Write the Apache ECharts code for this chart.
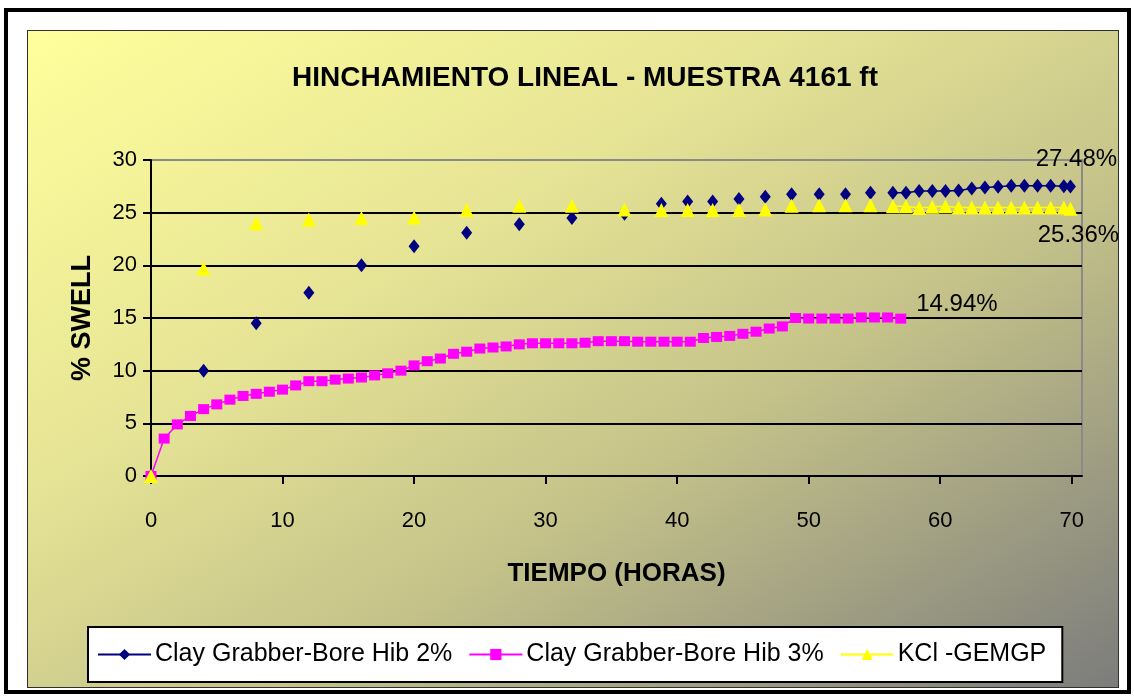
<!DOCTYPE html>
<html>
<head>
<meta charset="utf-8">
<script src="https://cdn.jsdelivr.net/npm/echarts@6/dist/echarts.min.js"></script>
<style>
  html, body { margin: 0; padding: 0; background: #ffffff; }
  #wrap { position: relative; width: 1134px; height: 697px; background: #ffffff; overflow: hidden; }
  #frame { position: absolute; left: 4px; top: 8px; width: 1119px; height: 678px; border: 4px solid #000; }
  #area { position: absolute; left: 27px; top: 30px; width: 1090px; height: 656px; border: 1px solid #303030;
          background: linear-gradient(to bottom right, #FFFF9C 0%, #E6E495 35%, #C4C289 62%, #7C7C7C 100%); }
  #chart { position: absolute; left: 0; top: 0; width: 1134px; height: 697px; }
</style>
</head>
<body>
<div id="wrap">
  <div id="frame"></div>
  <div id="area"></div>
  <div id="chart"></div>
</div>
<script>
// ---- data ----
const titleText = 'HINCHAMIENTO LINEAL - MUESTRA 4161 ft';
const xAxisTitle = 'TIEMPO (HORAS)';
const yAxisTitle = '% SWELL';
const seriesNames = ['Clay Grabber-Bore Hib 2%', 'Clay Grabber-Bore Hib 3%', 'KCl -GEMGP'];
const xTickValues = [0, 10, 20, 30, 40, 50, 60, 70];

// hours shared by "Hib 2%" and "KCl" series
const hoursA = [0, 4, 8, 12, 16, 20, 24, 28, 32, 36, 38.8, 40.8, 42.7, 44.7, 46.7, 48.7, 50.8, 52.8, 54.7,
  56.4, 57.4, 58.4, 59.4, 60.4, 61.4, 62.4, 63.4, 64.4, 65.4, 66.4, 67.4, 68.4, 69.4, 69.9];
const swellHib2 = [0, 10.0, 14.5, 17.4, 20.0, 21.8, 23.1, 23.9, 24.5, 24.9, 25.85, 26.05, 26.05, 26.3, 26.5,
  26.75, 26.75, 26.75, 26.9, 26.9, 26.9, 27.05, 27.05, 27.05, 27.1, 27.3, 27.4, 27.45, 27.55, 27.55, 27.55,
  27.55, 27.5, 27.48];
const swellKCl = [0, 19.7, 24.0, 24.35, 24.5, 24.55, 25.25, 25.65, 25.65, 25.3, 25.25, 25.25, 25.25, 25.25,
  25.3, 25.65, 25.7, 25.7, 25.7, 25.6, 25.6, 25.45, 25.55, 25.6, 25.5, 25.5, 25.5, 25.5, 25.5, 25.5, 25.5,
  25.5, 25.5, 25.36];

// hours for "Hib 3%" series
const hoursB = [0, 1, 2, 3, 4, 5, 6, 7, 8, 9, 10, 11, 12, 13, 14, 15, 16, 17, 18, 19, 20, 21, 22, 23, 24, 25,
  26, 27, 28, 29, 30, 31, 32, 33, 34, 35, 36, 37, 38, 39, 40, 41, 42, 43, 44, 45, 46, 47, 48, 49, 50, 51, 52,
  53, 54, 55, 56, 57];
const swellHib3 = [0, 3.55, 4.9, 5.7, 6.35, 6.8, 7.25, 7.6, 7.8, 8.0,
  8.2, 8.6, 9.0, 9.0, 9.15, 9.25, 9.35, 9.55, 9.75, 10.0,
  10.5, 10.9, 11.15, 11.6, 11.8, 12.1, 12.2, 12.3, 12.5, 12.6,
  12.6, 12.6, 12.6, 12.65, 12.8, 12.8, 12.8, 12.75, 12.75, 12.75,
  12.75, 12.75, 13.1, 13.2, 13.3, 13.5, 13.7, 14.0, 14.2, 15.0,
  14.95, 14.95, 14.95, 14.95, 15.05, 15.05, 15.05, 14.94];

// ---- build series data (break the line where readings are not consecutive) ----
function buildData(hours, vals, endLabel) {
  const out = [];
  for (let i = 0; i < hours.length; i++) {
    if (i > 0 && hours[i] - hours[i - 1] > 1.5) out.push([hours[i], '-']);
    if (i === hours.length - 1) {
      out.push({ value: [hours[i], vals[i]], label: Object.assign({ show: true,
        formatter: vals[i].toFixed(2) + '%' }, endLabel) });
    } else {
      out.push([hours[i], vals[i]]);
    }
  }
  return out;
}

const FONT = "'Liberation Sans', Arial, sans-serif";
const labelBase = { color: '#000', fontFamily: FONT, fontSize: 24 };

const chart = echarts.init(document.getElementById('chart'), null, { renderer: 'canvas' });
chart.setOption({
  backgroundColor: 'transparent',
  animation: false,
  textStyle: { fontFamily: FONT },
  title: {
    text: titleText, left: 580, top: 59, textAlign: 'center',
    textStyle: { fontFamily: FONT, fontSize: 28, fontWeight: 'bold', color: '#000' }
  },
  legend: {
    left: 88, top: 627, orient: 'horizontal',
    backgroundColor: '#fff', borderColor: '#000', borderWidth: 2, borderRadius: 0,
    padding: [15, 16, 15, 9], itemGap: 16, itemWidth: 53, itemHeight: 14,
    textStyle: { fontFamily: FONT, fontSize: 25, color: '#000', padding: [0, 0, 0, -1] },
    data: seriesNames
  },
  grid: {
    left: 151, top: 160, right: 52, bottom: 221,
    show: true, borderColor: '#8a8a8a', borderWidth: 2, backgroundColor: 'transparent'
  },
  xAxis: {
    type: 'value', min: 0, max: 70.78,
    name: xAxisTitle, nameLocation: 'middle', nameGap: 85,
    nameTextStyle: { fontFamily: FONT, fontSize: 26, fontWeight: 'bold', color: '#000' },
    axisLine: { show: true, onZero: false, lineStyle: { color: '#000', width: 2 } },
    axisTick: { show: true, inside: false, length: 8, customValues: xTickValues, lineStyle: { color: '#000', width: 2 } },
    axisLabel: { show: true, customValues: xTickValues, margin: 34, color: '#000', fontFamily: FONT, fontSize: 22 },
    splitLine: { show: false }
  },
  yAxis: {
    type: 'value', min: 0, max: 30, interval: 5,
    name: yAxisTitle, nameLocation: 'middle', nameGap: 55, nameRotate: 90,
    nameTextStyle: { fontFamily: FONT, fontSize: 27, fontWeight: 'bold', color: '#000' },
    axisLine: { show: true, lineStyle: { color: '#000', width: 2 } },
    axisTick: { show: true, inside: false, length: 8, lineStyle: { color: '#000', width: 2 } },
    axisLabel: { margin: 14, color: '#000', fontFamily: FONT, fontSize: 22 },
    splitLine: { show: true, showMinLine: false, showMaxLine: false, lineStyle: { color: '#000', width: 2 } }
  },
  series: [
    {
      name: seriesNames[0], type: 'line', z: 3,
      data: buildData(hoursA, swellHib2, Object.assign({ position: 'top', distance: 8, offset: [6, 0] }, labelBase)),
      symbol: 'diamond', symbolSize: [11, 14], showSymbol: true, showAllSymbol: true, connectNulls: false,
      itemStyle: { color: '#000080', borderWidth: 0 },
      lineStyle: { color: '#000080', width: 1.5 },
      emphasis: { disabled: true }
    },
    {
      name: seriesNames[1], type: 'line', z: 4,
      data: buildData(hoursB, swellHib3, Object.assign({ position: 'right', distance: 10, offset: [0, -14] }, labelBase)),
      symbol: 'rect', symbolSize: [11, 10], showSymbol: true, showAllSymbol: true, connectNulls: false,
      itemStyle: { color: '#FF00FF', borderWidth: 0 },
      lineStyle: { color: '#FF00FF', width: 1.5 },
      emphasis: { disabled: true }
    },
    {
      name: seriesNames[2], type: 'line', z: 5,
      data: buildData(hoursA, swellKCl, Object.assign({ position: 'bottom', distance: 8, offset: [8, 0] }, labelBase)),
      symbol: 'triangle', symbolSize: [14, 14], showSymbol: true, showAllSymbol: true, connectNulls: false,
      itemStyle: { color: '#FFFF00', borderWidth: 0 },
      lineStyle: { color: '#FFFF00', width: 1.5 },
      emphasis: { disabled: true }
    }
  ]
});
</script>
</body>
</html>
